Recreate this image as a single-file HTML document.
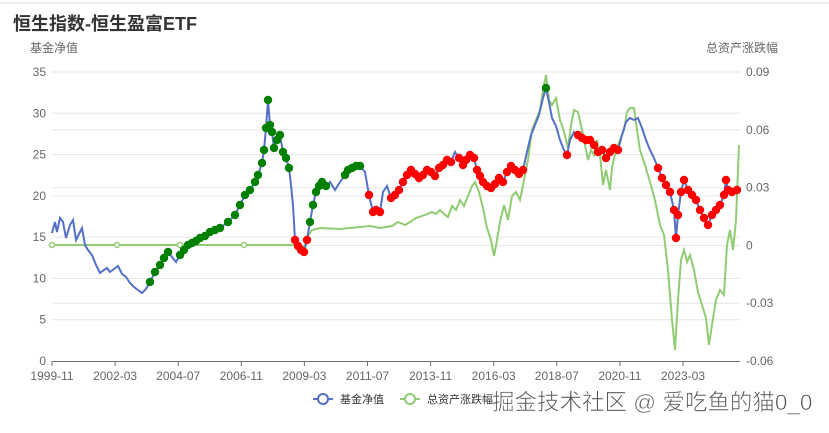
<!DOCTYPE html>
<html><head><meta charset="utf-8"><style>
body{margin:0;background:#fff;width:829px;height:428px;overflow:hidden;font-family:"Liberation Sans","Noto Sans CJK SC",sans-serif}
</style></head><body>
<svg id="s" width="829" height="428" xmlns="http://www.w3.org/2000/svg" font-family="Liberation Sans, Noto Sans CJK SC, sans-serif">
<line x1="0" y1="3" x2="829" y2="3" stroke="#ddd" stroke-width="1"/>
<text x="13" y="30" font-size="18" font-weight="bold" fill="#333">恒生指数-恒生盈富ETF</text>
<text x="30" y="52" font-size="12" fill="#666">基金净值</text>
<text x="706" y="52" font-size="12" fill="#666">总资产涨跌幅</text>
<g stroke="#e6e6e6" stroke-width="1" id="grid"></g>
<g font-size="12" fill="#666" id="labels"></g>
<line x1="52" y1="361.5" x2="740" y2="361.5" stroke="#6e7079"/>
<g id="plot"></g>
<g font-size="11" fill="#333">
<line x1="313" y1="399" x2="333" y2="399" stroke="#5470c6" stroke-width="2"/><circle cx="323" cy="399" r="5" fill="#fff" stroke="#5470c6" stroke-width="2"/>
<text x="340" y="403">基金净值</text>
<line x1="400" y1="399" x2="420" y2="399" stroke="#91cc75" stroke-width="2"/><circle cx="410" cy="399" r="5" fill="#fff" stroke="#91cc75" stroke-width="2"/>
<text x="427" y="403">总资产涨跌幅</text>
</g>
<text x="492" y="410" font-size="22.5" fill="#555" stroke="#fff" stroke-width="0.6">掘金技术社区 @ 爱吃鱼的猫0_0</text>
</svg>
<script>
const NS="http://www.w3.org/2000/svg";
function el(t,a,p){const e=document.createElementNS(NS,t);for(const k in a)e.setAttribute(k,a[k]);(p||document.getElementById('plot')).appendChild(e);return e;}
const g=document.getElementById('grid'),L=document.getElementById('labels');
for(let i=0;i<=7;i++){const y=72+i*41.29;if(i<7)el('line',{x1:52,x2:740,y1:y,y2:y},g);const t=el('text',{x:46,y:y+4,'text-anchor':'end'},L);t.textContent=35-5*i;}
const rl=['0.09','0.06','0.03','0','-0.03','-0.06'];
for(let i=0;i<6;i++){const y=72+i*57.8;if(i>0&&i<5)el('line',{x1:52,x2:740,y1:y,y2:y},g);const t=el('text',{x:746,y:y+4},L);t.textContent=rl[i];}
const xl=['1999-11','2002-03','2004-07','2006-11','2009-03','2011-07','2013-11','2016-03','2018-07','2020-11','2023-03'];
xl.forEach((s,i)=>{const x=52+i*63.1;el('line',{x1:x,x2:x,y1:361,y2:366,stroke:'#6e7079'},L);const t=el('text',{x:x,y:380,'text-anchor':'middle'},L);t.textContent=s;});
const green=[[52,245],[300,245],[304,247],[308,236],[312,230],[320,228],[340,229],[360,227],[370,226],[380,228],[392,226],[398,222],[405,225],[410,222],[416,218],[425,215],[432,212],[436,214],[440,210],[444,214],[448,217],[452,206],[456,210],[460,200],[464,206],[468,196],[472,186],[475,182],[479,192],[483,208],[487,228],[491,240],[494,256],[497,240],[500,222],[504,205],[508,220],[512,196],[516,192],[520,200],[524,180],[528,160],[532,130],[536,120],[540,110],[543,90],[546,75],[549,100],[552,105],[556,98],[560,120],[563,128],[566,140],[568,148],[571,125],[574,110],[578,112],[582,130],[585,145],[588,160],[591,150],[594,155],[597,140],[600,155],[603,185],[606,170],[610,190],[612,168],[616,150],[620,140],[624,130],[627,112],[630,108],[634,108],[637,130],[640,150],[645,165],[650,182],[655,200],[660,225],[664,235],[668,270],[672,320],[675,350],[678,300],[681,260],[684,250],[687,262],[690,255],[694,270],[698,292],[702,305],[706,318],[709,345],[712,325],[716,300],[720,290],[724,295],[727,245],[730,230],[733,250],[736,220],[739,145]];
const blue=[[52,233],[55,222],[57,232],[60,218],[63,222],[66,238],[70,225],[73,220],[76,240],[80,232],[82,228],[85,245],[88,250],[92,255],[96,265],[100,273],[104,270],[107,268],[110,272],[114,269],[118,266],[122,274],[126,277],[130,283],[134,287],[138,290],[142,293],[146,289],[150,282],[155,272],[160,265],[164,258],[168,252],[172,257],[176,262],[180,255],[184,250],[188,245],[192,243],[196,241],[200,238],[205,236],[210,232],[215,230],[220,228],[228,222],[235,215],[240,205],[245,195],[250,190],[255,182],[258,175],[262,163],[264,150],[266,128],[268,100],[270,125],[272,132],[274,148],[277,140],[280,135],[283,152],[286,158],[289,168],[291,185],[293,205],[295,240],[298,246],[301,250],[304,252],[307,240],[310,222],[313,205],[316,192],[319,186],[322,182],[326,186],[330,182],[335,190],[340,182],[345,175],[348,170],[352,168],[356,166],[360,166],[365,172],[369,195],[373,212],[376,210],[380,212],[383,192],[387,186],[391,198],[395,195],[399,190],[403,182],[407,175],[411,170],[415,174],[419,178],[423,175],[427,170],[431,172],[435,176],[439,168],[443,165],[447,160],[451,162],[455,152],[459,158],[463,165],[466,160],[470,155],[474,158],[477,170],[480,176],[483,182],[487,186],[491,188],[495,184],[499,178],[503,182],[507,172],[511,166],[515,170],[519,174],[523,170],[527,152],[531,135],[535,125],[539,115],[543,98],[546,88],[549,102],[552,118],[556,126],[560,140],[564,150],[567,155],[570,140],[574,132],[578,135],[582,138],[586,140],[590,140],[594,145],[598,152],[602,150],[606,158],[610,152],[614,148],[618,150],[622,135],[626,122],[630,118],[634,120],[638,118],[642,128],[646,140],[650,150],[654,158],[658,168],[662,178],[666,185],[670,192],[674,210],[676,238],[678,215],[681,192],[684,180],[688,190],[692,195],[696,200],[700,210],[704,218],[708,225],[712,215],[716,210],[720,205],[724,195],[726,180],[728,190],[732,192],[737,190]];
const pts=a=>a.map(p=>p.join(',')).join(' ');
el('polyline',{points:pts(green),fill:'none',stroke:'#91cc75','stroke-width':2});
[52,117,180,244].forEach(x=>el('circle',{cx:x,cy:245,r:2.5,fill:'#fff',stroke:'#91cc75','stroke-width':1.5}));
el('polyline',{points:pts(blue),fill:'none',stroke:'#5470c6','stroke-width':2});
function dots(x0,x1,c,skip){blue.forEach(p=>{if(p[0]>=x0&&p[0]<=x1&&!(skip&&skip(p[0])))el('circle',{cx:p[0],cy:p[1],r:4.2,fill:c});});}
dots(150,290,'#008000',x=>x>=170&&x<=178);
dots(295,307,'#ff0000');
dots(310,360,'#008000',x=>x>=330&&x<=344);
dots(369,525,'#ff0000',x=>x==383||x==387||x==455);
dots(546,546,'#008000');
dots(567,567,'#ff0000');
dots(578,618,'#ff0000');
dots(658,737,'#ff0000');
</script>
</body></html>
